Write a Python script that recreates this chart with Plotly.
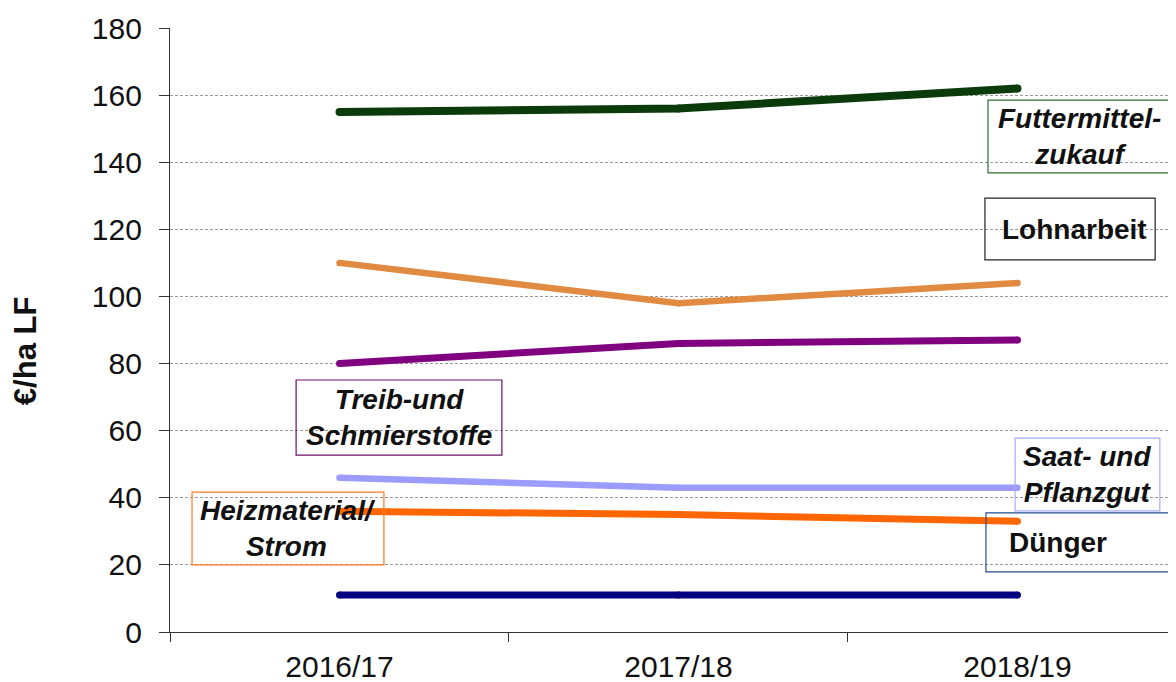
import plotly.graph_objects as go

years = ["2016/17", "2017/18", "2018/19"]
futtermittel = [155, 156, 162]
lohnarbeit = [110, 98, 104]
treibstoffe = [80, 86, 87]
saatgut = [46, 43, 43]
heizmaterial = [36, 35, 33]
duenger = [11, 11, 11]

series = [
    ("Futtermittelzukauf", futtermittel, "#0B3A0B", 8),
    ("Lohnarbeit", lohnarbeit, "#E08A42", 6.5),
    ("Treib- und Schmierstoffe", treibstoffe, "#800080", 7),
    ("Saat- und Pflanzgut", saatgut, "#9C9CFF", 6.5),
    ("Heizmaterial/Strom", heizmaterial, "#FF6600", 7),
    ("Dünger", duenger, "#000080", 7),
]

FONT = "Arial, Liberation Sans, sans-serif"

fig = go.Figure()
for name, vals, col, w in series:
    fig.add_trace(go.Scatter(
        x=years, y=vals, mode="lines+markers", name=name,
        line=dict(color=col, width=w),
        marker=dict(color=col, size=w, line=dict(width=0)),
        showlegend=False, cliponaxis=False,
    ))

# label boxes: (text, x0, x1, y0, y1, border color, text anchor)
boxes = [
    ("<b><i>Futtermittel-<br>zukauf</i></b>", 1.913, 2.450, 136.8, 158.5, "#2E6B2E", "center"),
    ("<b>Lohnarbeit</b>", 1.904, 2.406, 110.9, 129.3, "#222222", "right"),
    ("<b><i>Treib-und<br>Schmierstoffe</i></b>", -0.128, 0.479, 52.7, 75.1, "#6E0F6E", "center"),
    ("<b><i>Heizmaterial/<br>Strom</i></b>", -0.435, 0.131, 20.0, 41.7, "#FF7A22", "center"),
    ("<b><i>Saat- und<br>Pflanzgut</i></b>", 1.993, 2.420, 36.1, 57.8, "#A8A8FF", "center"),
    ("<b>Dünger</b>", 1.907, 2.60, 17.9, 35.5, "#1F4E8F", "left"),
]
for text, x0, x1, y0, y1, bc, anchor in boxes:
    fig.add_shape(type="rect", xref="x", yref="y", x0=x0, x1=x1, y0=y0, y1=y1,
                  line=dict(color=bc, width=1.2), fillcolor="rgba(0,0,0,0)", layer="above")
    if anchor == "center":
        ax, xa = (x0 + x1) / 2, "center"
    elif anchor == "left":
        ax, xa = x0 + 0.062, "left"
    else:
        ax, xa = x1 - 0.017, "right"
    fig.add_annotation(x=ax, y=(y0 + y1) / 2, xref="x", yref="y",
                       text=text, showarrow=False, align="center",
                       xanchor=xa, yanchor="middle",
                       font=dict(family=FONT, size=28, color="#111111"))

# y-axis title (placed slightly below the axis centre, as in the original)
fig.add_annotation(x=0, y=0.465, xref="paper", yref="paper", xshift=-145,
                   text="<b>€/ha LF</b>", textangle=-90, showarrow=False,
                   xanchor="center", yanchor="middle",
                   font=dict(family=FONT, size=31, color="#111111"))

# page body has an 8px margin, so the figure is 8px smaller than the window
fig.update_layout(
    width=1168, height=674,
    margin=dict(l=162, r=0, t=20, b=50, autoexpand=False),
    paper_bgcolor="white", plot_bgcolor="white",
    font=dict(family=FONT, color="#111111"),
)
fig.update_xaxes(
    type="category", range=[-0.5, 2.4676], automargin=False,
    tickson="boundaries", ticks="outside", ticklen=9, tickwidth=1.3, tickcolor="#333333",
    showgrid=False, showline=True, linecolor="#333333", linewidth=1.3,
    tickfont=dict(size=30, family=FONT, color="#111111"),
    ticklabelstandoff=8, zeroline=False,
)
fig.update_yaxes(
    range=[0, 180], tickvals=list(range(0, 181, 20)), automargin=False,
    ticks="outside", ticklen=10, tickwidth=1.3, tickcolor="#333333",
    showline=True, linecolor="#333333", linewidth=1.3,
    showgrid=True, gridcolor="#9A9A9A", gridwidth=1, griddash="3px,2px",
    zeroline=False,
    tickfont=dict(size=30, family=FONT, color="#111111"),
    ticklabelstandoff=11,
)

fig.write_html("out.html")
